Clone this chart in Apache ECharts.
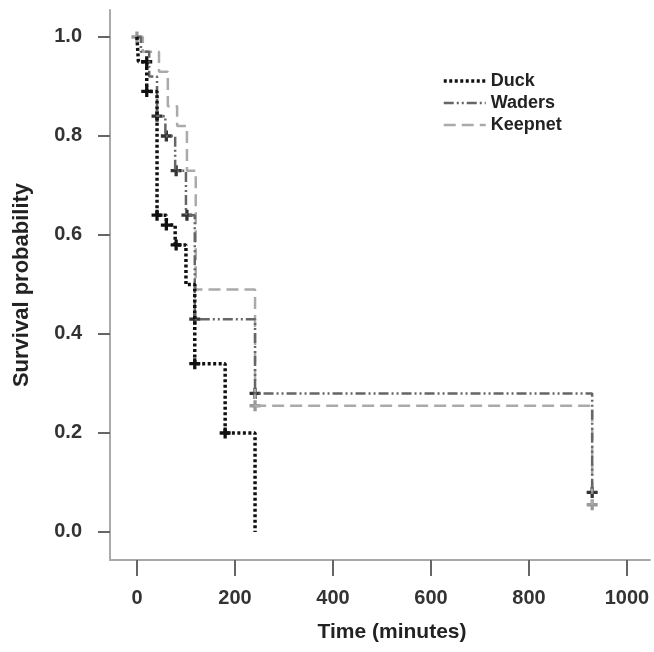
<!DOCTYPE html>
<html>
<head>
<meta charset="utf-8">
<script src="https://cdn.jsdelivr.net/npm/echarts@6/dist/echarts.min.js"></script>
<style>
  html, body { margin: 0; padding: 0; background: #fff; }
  #chart { width: 654px; height: 652px; }
</style>
</head>
<body>
<div id="chart"></div>
<script>
// step points: time (minutes) and survival value after the step
var duckTime = [0, 3, 20, 41, 60, 78, 100, 118, 180, 241];
var duckSurv = [1.0, 0.95, 0.89, 0.64, 0.62, 0.58, 0.50, 0.34, 0.20, 0.0];
var wadersTime = [0, 8, 25, 41, 58, 78, 100, 118, 241, 929];
var wadersSurv = [1.0, 0.97, 0.92, 0.84, 0.80, 0.73, 0.64, 0.43, 0.28, 0.08];
var keepTime = [0, 12, 45, 63, 82, 102, 120, 241, 929];
var keepSurv = [1.0, 0.97, 0.93, 0.86, 0.82, 0.73, 0.49, 0.255, 0.055];

// censored observations (+ marks)
var duckCensT = [20, 20, 41, 60, 80, 118, 180];
var duckCensS = [0.95, 0.89, 0.64, 0.62, 0.58, 0.34, 0.20];
var wadersCensT = [41, 60, 80, 102, 118, 241, 929];
var wadersCensS = [0.84, 0.80, 0.73, 0.64, 0.43, 0.28, 0.08];
var keepCensT = [0, 241, 929];
var keepCensS = [1.0, 0.255, 0.055];

var xTicks = [0, 200, 400, 600, 800, 1000];
var yTicks = [0, 0.2, 0.4, 0.6, 0.8, 1.0];

function pairs(t, s) {
    var out = [];
    for (var i = 0; i < t.length; i++) out.push([t[i], s[i]]);
    return out;
}

var plus = 'path://M-1.5,-5H1.5V-1.5H5V1.5H1.5V5H-1.5V1.5H-5V-1.5H-1.5Z';

var duckLine = {color: '#111', width: 3.5, type: [3, 2.5]};
var wadersLine = {color: '#666', width: 2.5, type: [10, 3, 2, 3, 2, 3]};
var keepLine = {color: '#aaa', width: 2.5, type: [12, 6]};

var chart = echarts.init(document.getElementById('chart'));

var option = {
    animation: false,
    backgroundColor: '#fff',
    textStyle: {fontFamily: 'Liberation Sans'},
    grid: {left: 110, right: 4, top: 10, bottom: 92},
    legend: {
        data: [
            {name: 'Duck', lineStyle: duckLine},
            {name: 'Waders', lineStyle: wadersLine},
            {name: 'Keepnet', lineStyle: keepLine}
        ],
        orient: 'vertical',
        left: 437,
        top: 67,
        itemWidth: 42,
        itemHeight: 12,
        itemGap: 4,
        itemStyle: {opacity: 0},
        textStyle: {fontSize: 18, fontWeight: 'bold', color: '#222'}
    },
    xAxis: {
        type: 'value',
        min: -55,
        max: 1047,
        name: 'Time (minutes)',
        nameLocation: 'middle',
        nameGap: 62,
        nameTextStyle: {fontSize: 21, fontWeight: 'bold', color: '#222', padding: [0, 0, 0, 24]},
        splitLine: {show: false},
        axisLine: {show: true, onZero: false, lineStyle: {color: '#aaa', width: 2}},
        axisTick: {show: true, customValues: xTicks, length: 16, lineStyle: {color: '#666', width: 2}},
        axisLabel: {
            customValues: xTicks, margin: 28, fontSize: 20, fontWeight: 'bold', color: '#333',
            formatter: function (v) { return String(v); }
        }
    },
    yAxis: {
        type: 'value',
        min: -0.0566,
        max: 1.0545,
        name: 'Survival probability',
        nameLocation: 'middle',
        nameGap: 77,
        nameRotate: 90,
        nameTextStyle: {fontSize: 22, fontWeight: 'bold', color: '#222'},
        splitLine: {show: false},
        axisLine: {show: true, onZero: false, lineStyle: {color: '#aaa', width: 2}},
        axisTick: {show: true, customValues: yTicks, length: 12, lineStyle: {color: '#666', width: 2}},
        axisLabel: {
            customValues: yTicks, margin: 28, fontSize: 20, fontWeight: 'bold', color: '#333',
            formatter: function (v) { return v.toFixed(1); }
        }
    },
    series: [
        {
            name: 'Keepnet', type: 'line', step: 'end', symbol: 'none',
            data: pairs(keepTime, keepSurv),
            lineStyle: keepLine,
            itemStyle: {color: '#aaa'}
        },
        {
            name: 'Waders', type: 'line', step: 'end', symbol: 'none',
            data: pairs(wadersTime, wadersSurv),
            lineStyle: wadersLine,
            itemStyle: {color: '#666'}
        },
        {
            name: 'Duck', type: 'line', step: 'end', symbol: 'none',
            data: pairs(duckTime, duckSurv),
            lineStyle: duckLine,
            itemStyle: {color: '#111'}
        },
        {
            name: 'Keepnet censored', type: 'scatter', symbol: plus, symbolSize: 11,
            data: pairs(keepCensT, keepCensS),
            itemStyle: {color: '#999', opacity: 1}
        },
        {
            name: 'Waders censored', type: 'scatter', symbol: plus, symbolSize: 11,
            data: pairs(wadersCensT, wadersCensS),
            itemStyle: {color: '#333', opacity: 1}
        },
        {
            name: 'Duck censored', type: 'scatter', symbol: plus, symbolSize: 11,
            data: pairs(duckCensT, duckCensS),
            itemStyle: {color: '#111', opacity: 1}
        }
    ]
};

option && chart.setOption(option);
</script>
</body>
</html>
